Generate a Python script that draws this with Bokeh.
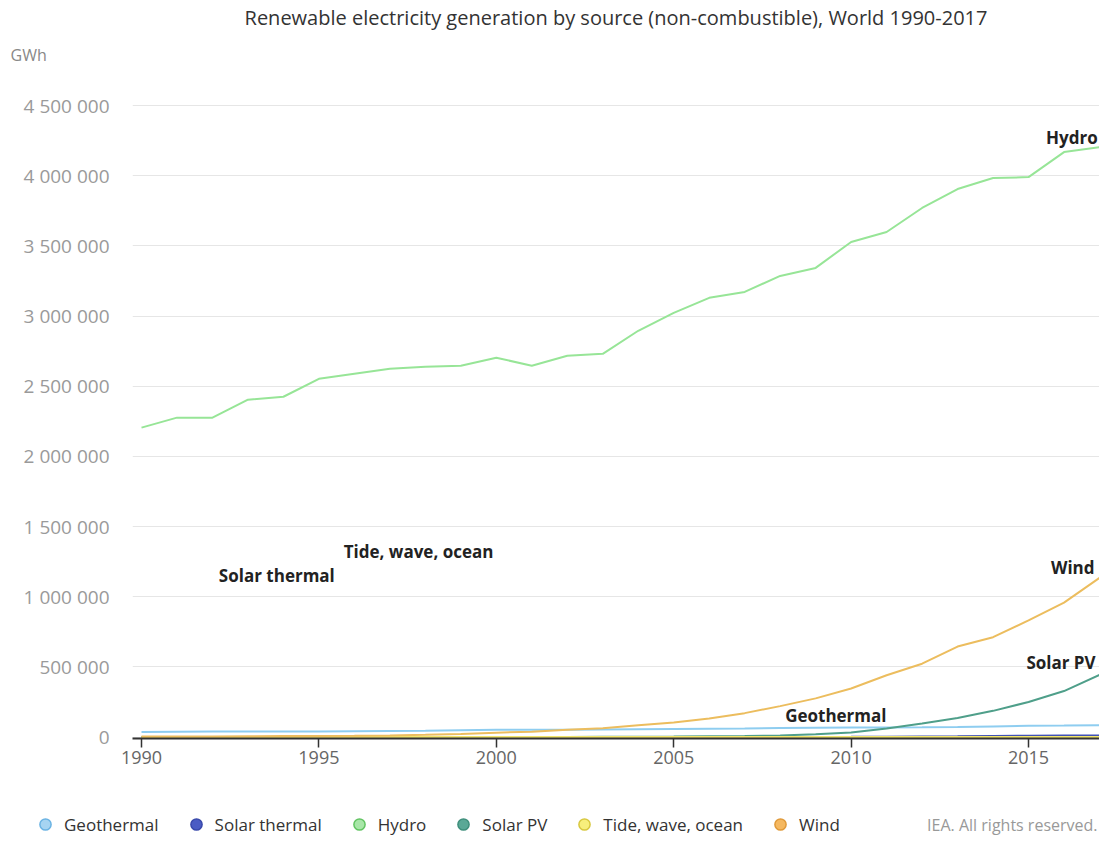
from bokeh.plotting import figure
from bokeh.models import Label, Legend, LegendItem, FixedTicker, Range1d, Title
from bokeh.layouts import column
from bokeh.embed import file_html
from bokeh.resources import INLINE

years = list(range(1990, 2018))

hydro = [2205000, 2276000, 2276000, 2404000, 2425000, 2553000, 2589000, 2624000,
         2639000, 2646000, 2703000, 2646000, 2717000, 2731000, 2895000, 3023000,
         3130000, 3172000, 3286000, 3343000, 3528000, 3599000, 3770000, 3905000,
         3983000, 3990000, 4168000, 4203000]
wind = [3880, 4140, 4720, 5700, 7200, 8300, 9300, 12000, 16000, 21500, 31400,
        38300, 52300, 63400, 85100, 104000, 132900, 170700, 220600, 276000,
        346500, 441000, 523000, 645000, 712000, 831000, 958000, 1134000]
solar_pv = [90, 100, 120, 150, 180, 230, 290, 370, 470, 600, 800, 1100, 1500,
            2000, 2800, 3800, 5300, 7500, 12000, 20000, 32000, 62000, 97000,
            136000, 187000, 250000, 328000, 443000]
geothermal = [36400, 38000, 39000, 40000, 40500, 39800, 42000, 44000, 46000,
              49000, 52000, 52000, 53000, 54000, 56000, 58000, 60000, 62000,
              65000, 67000, 68000, 69000, 70000, 72000, 76000, 80000, 82000, 85000]
solar_thermal = [660, 700, 750, 800, 850, 820, 870, 880, 900, 880, 530, 550,
                 560, 570, 590, 610, 620, 870, 940, 900, 1600, 2600, 4700, 5500,
                 8700, 9600, 11000, 11800]
tide = [540, 550, 550, 560, 560, 570, 570, 570, 580, 580, 590, 560, 560, 560,
        570, 570, 560, 560, 550, 550, 560, 1000, 1050, 1050, 1060, 1050, 1060, 1060]

y_ticks = [0, 500000, 1000000, 1500000, 2000000, 2500000, 3000000, 3500000, 4000000, 4500000]
y_tick_labels = ["0", "500 000", "1 000 000", "1 500 000", "2 000 000", "2 500 000",
                 "3 000 000", "3 500 000", "4 000 000", "4 500 000"]
x_ticks = [1990, 1995, 2000, 2005, 2010, 2015]

series = [
    ("Geothermal", geothermal, "#8ecdf0", "#a6d4f2", "#6bb3e3"),
    ("Solar thermal", solar_thermal, "#3f51b5", "#4b5cc4", "#3949ab"),
    ("Hydro", hydro, "#97e597", "#a8e6a8", "#62c462"),
    ("Solar PV", solar_pv, "#4f9f8a", "#5aa896", "#3f8f7c"),
    ("Tide, wave, ocean", tide, "#f2e56b", "#f7ef7c", "#d8c840"),
    ("Wind", wind, "#ecbd5e", "#f5b860", "#e09a3a"),
]

FONT = "Open Sans"
W = 1099
H_MAIN = 778
H_LEG = 58

p = figure(width=W, height=H_MAIN, output_backend="svg", toolbar_location=None,
           x_range=Range1d(1989.746, 2017), y_range=Range1d(-10000, 4706750),
           min_border_left=132, min_border_right=0, min_border_top=0,
           min_border_bottom=40, title_location=None)
p.frame_align = False
p.outline_line_color = None
p.xgrid.grid_line_color = None
p.ygrid.grid_line_color = "#e6e6e6"
p.ygrid.ticker = FixedTicker(ticks=y_ticks)

p.yaxis.ticker = FixedTicker(ticks=y_ticks)
p.yaxis.major_label_overrides = {t: s for t, s in zip(y_ticks, y_tick_labels)}
p.yaxis.axis_line_color = None
p.yaxis.major_tick_line_color = None
p.yaxis.minor_tick_line_color = None
p.yaxis.major_label_standoff = 17
p.yaxis.major_label_text_font = FONT
p.yaxis.major_label_text_font_size = "19px"
p.yaxis.major_label_text_color = "#9a9a9a"

p.xaxis.ticker = FixedTicker(ticks=x_ticks)
p.xaxis.axis_line_color = "#333333"
p.xaxis.axis_line_width = 2
p.xaxis.major_tick_line_color = "#333333"
p.xaxis.major_tick_line_width = 1.5
p.xaxis.major_tick_out = 9
p.xaxis.major_tick_in = 0
p.xaxis.minor_tick_line_color = None
p.xaxis.major_label_standoff = 3
p.xaxis.major_label_text_font = FONT
p.xaxis.major_label_text_font_size = "18px"
p.xaxis.major_label_text_color = "#666666"

for name, vals, lc, fc, oc in series:
    p.line(years, vals, line_color=lc, line_width=2)

# Titles above the frame: first added is nearest to the frame
gwh = Title(text="GWh", align="left", offset=-122, standoff=21,
            text_font=FONT, text_font_size="16px", text_font_style="normal",
            text_color="#888888")
main_title = Title(text="Renewable electricity generation by source (non-combustible), World 1990-2017",
                   align="center", standoff=2, text_font=FONT, text_font_size="20px",
                   text_font_style="normal", text_color="#333333")
p.add_layout(gwh, "above")
p.add_layout(main_title, "above")

# Series labels
lab_style = dict(text_font=FONT, text_font_style="bold", text_font_size="17px",
                 text_color="#222222", text_baseline="middle")
p.add_layout(Label(x=2016.95, y=hydro[-1] + 70000, text="Hydro", text_align="right", **lab_style))
p.add_layout(Label(x=2016.86, y=wind[-1] + 75000, text="Wind", text_align="right", **lab_style))
p.add_layout(Label(x=2016.89, y=solar_pv[-1] + 90000, text="Solar PV", text_align="right", **lab_style))
p.add_layout(Label(x=2008.14, y=156000, text="Geothermal", text_align="left", **lab_style))
p.add_layout(Label(x=1992.18, y=1152000, text="Solar thermal", text_align="left", **lab_style))
p.add_layout(Label(x=1995.70, y=1322000, text="Tide, wave, ocean", text_align="left", **lab_style))

# Legend figure below
lf = figure(width=W, height=H_LEG, output_backend="svg", toolbar_location=None,
            x_range=Range1d(0, 1), y_range=Range1d(0, 1),
            x_axis_location=None, y_axis_location=None,
            min_border=0, min_border_left=0, min_border_right=0,
            min_border_top=0, min_border_bottom=0, title_location=None)
lf.frame_align = False
lf.grid.visible = False
lf.outline_line_color = None

items = []
for name, vals, lc, fc, oc in series:
    r = lf.scatter(x=[-5], y=[-5], marker="circle", fill_color=fc, line_color=oc, line_width=1.5)
    items.append(LegendItem(label=name, renderers=[r]))

legend = Legend(items=items, orientation="horizontal", location=(31, -2),
                glyph_width=28, glyph_height=28, label_standoff=5, spacing=23,
                padding=0, margin=0, border_line_color=None,
                background_fill_alpha=0, label_text_font=FONT,
                label_text_font_size="17px", label_text_color="#333333")
lf.add_layout(legend, "center")
lf.add_layout(Label(x=W - 2, y=12, x_units="screen", y_units="screen",
                    text="IEA. All rights reserved.", text_align="right",
                    text_baseline="middle", text_font=FONT, text_font_size="16px",
                    text_color="#999999"))

layout = column(p, lf, spacing=0)
open("out.html", "w").write(file_html(layout, INLINE))
